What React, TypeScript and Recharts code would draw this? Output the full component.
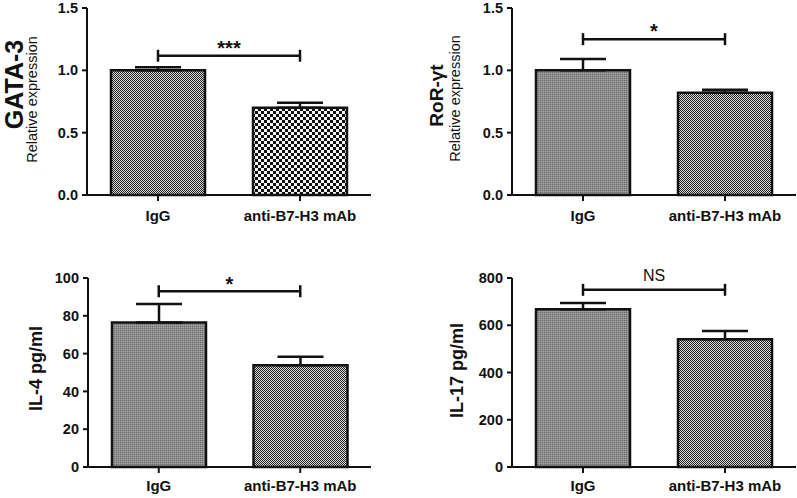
import React from 'react';
import { BarChart, Bar, XAxis, YAxis, ErrorBar, ReferenceLine, Cell } from 'recharts';

// ---------- data ----------
const categories = ['IgG', 'anti-B7-H3 mAb'];

const gata3Values = [1.0, 0.7];
const gata3Errors = [0.025, 0.04];
const gata3Sig = { y: 1.117, text: '***' };

const rorValues = [1.0, 0.82];
const rorErrors = [0.09, 0.025];
const rorSig = { y: 1.25, text: '*' };

const il4Values = [76.5, 53.8];
const il4Errors = [9.7, 4.5];
const il4Sig = { y: 93, text: '*' };

const il17Values = [668, 541];
const il17Errors = [26, 35];
const il17Sig = { y: 750, text: 'NS' };

const expressionTicks = [0, 0.5, 1.0, 1.5];
const il4Ticks = [0, 20, 40, 60, 80, 100];
const il17Ticks = [0, 200, 400, 600, 800];

const FONT = '"Liberation Sans", Arial, Helvetica, sans-serif';
const INK = '#111';

function buildRows(values: number[], errors: number[]) {
  return categories.map((c, i) => ({ name: c, value: values[i], err: [0, errors[i]] }));
}

function Patterns({ prefix }: { prefix: string }) {
  return (
    <defs>
      <pattern id={`${prefix}-fine`} width={2} height={2} patternUnits="userSpaceOnUse">
        <rect x={0} y={0} width={2} height={2} fill="#dadada" />
        <rect x={0} y={0} width={1} height={1} fill="#222" />
        <rect x={1} y={1} width={1} height={1} fill="#222" />
      </pattern>
      <pattern id={`${prefix}-coarse`} width={6} height={6} patternUnits="userSpaceOnUse">
        <rect x={0} y={0} width={6} height={6} fill="#f4f4f4" />
        <rect x={0} y={0} width={3} height={3} fill="#111" />
        <rect x={3} y={3} width={3} height={3} fill="#111" />
      </pattern>
      <pattern id={`${prefix}-gray`} width={2} height={2} patternUnits="userSpaceOnUse">
        <rect x={0} y={0} width={2} height={2} fill="#8c8c8c" />
        <rect x={0} y={0} width={1} height={1} fill="#6e6e6e" />
        <rect x={1} y={1} width={1} height={1} fill="#a6a6a6" />
      </pattern>
    </defs>
  );
}

function Bracket(props: any) {
  const { x1, y1, x2, y2 } = props;
  return (
    <g>
      <line x1={x1} y1={y1} x2={x2} y2={y2} stroke={INK} strokeWidth={2.5} />
      <line x1={x1} y1={y1 - 6} x2={x1} y2={y1 + 6} stroke={INK} strokeWidth={2.5} />
      <line x1={x2} y1={y2 - 6} x2={x2} y2={y2 + 6} stroke={INK} strokeWidth={2.5} />
    </g>
  );
}

type PanelProps = {
  id: string;
  left: number;
  top: number;
  width: number;
  height: number;
  margin: { top: number; right: number; bottom: number; left: number };
  yWidth: number;
  xHeight: number;
  xTickMargin: number;
  rows: any[];
  ticks: number[];
  decimals: number;
  fills: string[];
  sig: { y: number; text: string };
  sigBold: boolean;
  sigSize: number;
  sigOffset: number;
  title: string;
  titleSize: number;
  titleX: number;
  titleDy: number;
  subtitle?: string;
  subtitleX?: number;
  subtitleDy?: number;
};

function Panel(p: PanelProps) {
  const yLabel = (lp: any) => {
    const vb = lp.viewBox || {};
    const cy = (vb.y ?? 0) + (vb.height ?? 0) / 2;
    const ty = cy + p.titleDy;
    const sy = cy + (p.subtitleDy ?? 0);
    return (
      <g>
        <text
          x={p.titleX}
          y={ty}
          transform={`rotate(-90 ${p.titleX} ${ty})`}
          textAnchor="middle"
          dominantBaseline="central"
          fontFamily={FONT}
          fontWeight={700}
          fontSize={p.titleSize}
          fill={INK}
        >
          {p.title}
        </text>
        {p.subtitle ? (
          <text
            x={p.subtitleX}
            y={sy}
            transform={`rotate(-90 ${p.subtitleX} ${sy})`}
            textAnchor="middle"
            dominantBaseline="central"
            fontFamily={FONT}
            fontSize={14.5}
            fill={INK}
          >
            {p.subtitle}
          </text>
        ) : null}
      </g>
    );
  };
  const sigLabel = (lp: any) => {
    const vb = lp.viewBox || {};
    return (
      <text
        x={(vb.x ?? 0) + (vb.width ?? 0) / 2}
        y={(vb.y ?? 0) - p.sigOffset}
        textAnchor="middle"
        fontFamily={FONT}
        fontWeight={p.sigBold ? 700 : 400}
        fontSize={p.sigSize}
        fill={INK}
      >
        {p.sig.text}
      </text>
    );
  };
  return (
    <div style={{ position: 'absolute', left: p.left, top: p.top, width: p.width, height: p.height }}>
      <BarChart width={p.width} height={p.height} data={p.rows} margin={p.margin} barSize={94}>
        <Patterns prefix={p.id} />
        <XAxis
          dataKey="name"
          height={p.xHeight}
          axisLine={{ stroke: INK, strokeWidth: 2 }}
          tickLine={{ stroke: INK, strokeWidth: 2 }}
          tickSize={6}
          tickMargin={p.xTickMargin}
          tick={{ fill: INK, fontSize: 15, fontWeight: 700, fontFamily: FONT }}
          interval={0}
        />
        <YAxis
          width={p.yWidth}
          domain={[p.ticks[0], p.ticks[p.ticks.length - 1]]}
          ticks={p.ticks}
          interval={0}
          tickFormatter={(v: number) => v.toFixed(p.decimals)}
          axisLine={{ stroke: INK, strokeWidth: 2 }}
          tickLine={{ stroke: INK, strokeWidth: 2 }}
          tickSize={5}
          tickMargin={4}
          tick={{ fill: INK, fontSize: 14.5, fontWeight: 700, fontFamily: FONT }}
          label={{ content: yLabel }}
        />
        <Bar dataKey="value" stroke={INK} strokeWidth={2.5} isAnimationActive={false}>
          {p.rows.map((r, i) => (
            <Cell key={r.name} fill={p.fills[i]} />
          ))}
          <ErrorBar dataKey="err" width={23} stroke={INK} strokeWidth={2.5} direction="y" />
        </Bar>
        <ReferenceLine
          segment={[
            { x: categories[0], y: p.sig.y },
            { x: categories[1], y: p.sig.y },
          ]}
          shape={Bracket}
          label={{ content: sigLabel }}
          ifOverflow="visible"
        />
      </BarChart>
    </div>
  );
}

export default function App() {
  return (
    <div style={{ position: 'absolute', left: 0, top: 0, width: 797, height: 498, background: '#fff' }}>
      <Panel
        id="p1"
        left={0}
        top={0}
        width={400}
        height={250}
        margin={{ top: 8, right: 29, bottom: 25, left: 0 }}
        yWidth={87}
        xHeight={30}
        xTickMargin={9}
        rows={buildRows(gata3Values, gata3Errors)}
        ticks={expressionTicks}
        decimals={1}
        fills={['url(#p1-fine)', 'url(#p1-coarse)']}
        sig={gata3Sig}
        sigBold={true}
        sigSize={20}
        sigOffset={1}
        title="GATA-3"
        titleSize={25}
        titleX={14}
        titleDy={-17}
        subtitle="Relative expression"
        subtitleX={32}
        subtitleDy={-2}
      />
      <Panel
        id="p2"
        left={400}
        top={0}
        width={397}
        height={250}
        margin={{ top: 8, right: 1, bottom: 25, left: 0 }}
        yWidth={112}
        xHeight={30}
        xTickMargin={9}
        rows={buildRows(rorValues, rorErrors)}
        ticks={expressionTicks}
        decimals={1}
        fills={['url(#p2-gray)', 'url(#p2-fine)']}
        sig={rorSig}
        sigBold={true}
        sigSize={20}
        sigOffset={1}
        title="RoR-γt"
        titleSize={19}
        titleX={36}
        titleDy={-6}
        subtitle="Relative expression"
        subtitleX={55}
        subtitleDy={-3}
      />
      <Panel
        id="p3"
        left={0}
        top={250}
        width={400}
        height={248}
        margin={{ top: 28, right: 29, bottom: 0, left: 0 }}
        yWidth={88}
        xHeight={31}
        xTickMargin={7}
        rows={buildRows(il4Values, il4Errors)}
        ticks={il4Ticks}
        decimals={0}
        fills={['url(#p3-gray)', 'url(#p3-fine)']}
        sig={il4Sig}
        sigBold={true}
        sigSize={20}
        sigOffset={0}
        title="IL-4 pg/ml"
        titleSize={18}
        titleX={36}
        titleDy={-4}
      />
      <Panel
        id="p4"
        left={400}
        top={250}
        width={397}
        height={248}
        margin={{ top: 28, right: 1, bottom: 0, left: 0 }}
        yWidth={112}
        xHeight={31}
        xTickMargin={7}
        rows={buildRows(il17Values, il17Errors)}
        ticks={il17Ticks}
        decimals={0}
        fills={['url(#p4-gray)', 'url(#p4-fine)']}
        sig={il17Sig}
        sigBold={false}
        sigSize={16}
        sigOffset={9}
        title="IL-17 pg/ml"
        titleSize={18}
        titleX={57}
        titleDy={-2}
      />
    </div>
  );
}
